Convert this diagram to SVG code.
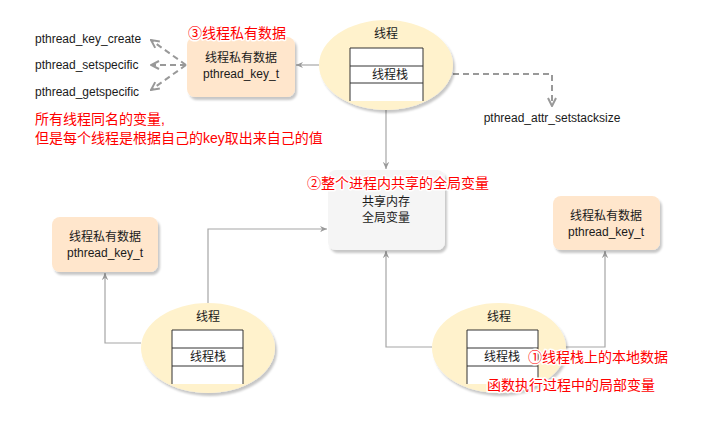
<svg xmlns="http://www.w3.org/2000/svg" width="702" height="423" viewBox="0 0 702 423">
  <defs>
    <filter id="shadow" x="-20%" y="-20%" width="140%" height="140%">
      <feDropShadow dx="2" dy="3" stdDeviation="1.2" flood-color="#000" flood-opacity="0.22"/>
    </filter>
    <marker id="arr" viewBox="0 0 10 10" refX="9" refY="5" markerWidth="8" markerHeight="8" orient="auto" markerUnits="userSpaceOnUse">
      <path d="M0,1 L9,5 L0,9 L3,5 Z" fill="#999"/>
    </marker>
    <marker id="open" viewBox="0 0 10 10" refX="9" refY="5" markerWidth="10" markerHeight="10" orient="auto" markerUnits="userSpaceOnUse">
      <path d="M1,1 L9,5 L1,9" fill="none" stroke="#999" stroke-width="2"/>
    </marker>
  </defs>
  <style>
    text { font-family: "Liberation Sans", "Noto Sans CJK SC", sans-serif; font-size: 12px; fill: #1a1a1a; }
    .c { text-anchor: middle; }
    .red { fill: #ff0000; font-size: 14px; stroke: #fff; stroke-width: 3px; paint-order: stroke; stroke-linejoin: round; }
    .thread { fill: #fff2cc; filter: url(#shadow); }
    .priv { fill: #ffe6cc; filter: url(#shadow); }
    .shared { fill: #f5f5f5; filter: url(#shadow); }
    .stack { fill: #fff; stroke: #333; stroke-width: 1; }
    .edge { fill: none; stroke: #a6a6a6; stroke-width: 1.2; }
    .dash { fill: none; stroke: #999; stroke-width: 2; stroke-dasharray: 6 4; }
  </style>

  <rect width="702" height="423" fill="#fff"/>

  <!-- connectors -->
  <g id="edges">
    <path class="edge" d="M319,65 L296,65" marker-end="url(#arr)"/>
    <path class="edge" d="M386,110 L386,169" marker-end="url(#arr)"/>
    <path class="dash" d="M423,74 L552,74 L552,106" marker-end="url(#open)"/>
    <path class="dash" d="M186,65 L151,40" marker-end="url(#open)"/>
    <path class="dash" d="M186,65 L151,65" marker-end="url(#open)"/>
    <path class="dash" d="M186,65 L151,90" marker-end="url(#open)"/>
    <path class="edge" d="M141,343 L105,343 L105,273" marker-end="url(#arr)"/>
    <path class="edge" d="M208,303 L208,229 L327,229" marker-end="url(#arr)"/>
    <path class="edge" d="M432,347 L386,347 L386,251" marker-end="url(#arr)"/>
    <path class="edge" d="M560,347 L605,347 L605,251" marker-end="url(#arr)"/>
  </g>

  <!-- top thread -->
  <g id="thread-top">
    <ellipse class="thread" cx="386" cy="65" rx="67" ry="45"/>
    <text class="c" x="386" y="38">线程</text>
    <path class="stack" d="M350,101 L350,48 L423,48 L423,101"/>
    <line class="stack" x1="350" y1="66" x2="423" y2="66"/>
    <line class="stack" x1="350" y1="83" x2="423" y2="83"/>
    <rect x="351" y="84" width="71" height="17" fill="#fff"/>
    <text class="c" x="390" y="79">线程栈</text>
  </g>

  <!-- top private data -->
  <g id="priv-top">
    <rect class="priv" x="187" y="37" width="108" height="60" rx="8"/>
    <text class="c" x="241" y="62">线程私有数据</text>
    <text class="c" x="241" y="78">pthread_key_t</text>
  </g>

  <g id="api-labels">
    <text x="35" y="43">pthread_key_create</text>
    <text x="35" y="69">pthread_setspecific</text>
    <text x="35" y="96">pthread_getspecific</text>
    <text class="c" x="552" y="122">pthread_attr_setstacksize</text>
  </g>

  <!-- shared memory -->
  <g id="shared">
    <rect class="shared" x="328" y="170" width="117" height="80" rx="8"/>
    <text class="c" x="386" y="206">共享内存</text>
    <text class="c" x="386" y="222">全局变量</text>
  </g>

  <!-- bottom-left thread -->
  <g id="thread-left">
    <ellipse class="thread" cx="208" cy="348" rx="67" ry="45"/>
    <text class="c" x="208" y="321">线程</text>
    <path class="stack" d="M172,384 L172,330 L243,330 L243,384"/>
    <line class="stack" x1="172" y1="348" x2="243" y2="348"/>
    <line class="stack" x1="172" y1="366" x2="243" y2="366"/>
    <text class="c" x="208" y="361">线程栈</text>
  </g>

  <g id="priv-left">
    <rect class="priv" x="52" y="217" width="106" height="55" rx="8"/>
    <text class="c" x="105" y="241">线程私有数据</text>
    <text class="c" x="105" y="257">pthread_key_t</text>
  </g>

  <!-- bottom-right thread -->
  <g id="thread-right">
    <ellipse class="thread" cx="499" cy="348" rx="67" ry="45"/>
    <text class="c" x="499" y="321">线程</text>
    <path class="stack" d="M467,384 L467,330 L538,330 L538,384"/>
    <line class="stack" x1="467" y1="348" x2="538" y2="348"/>
    <line class="stack" x1="467" y1="366" x2="538" y2="366"/>
    <text class="c" x="502" y="361">线程栈</text>
  </g>

  <g id="priv-right">
    <rect class="priv" x="553" y="196" width="107" height="54" rx="8"/>
    <text class="c" x="606" y="220">线程私有数据</text>
    <text class="c" x="606" y="236">pthread_key_t</text>
  </g>

  <!-- annotations -->
  <g id="notes">
    <text class="red" x="188" y="38">③线程私有数据</text>
    <text class="red" x="35" y="124">所有线程同名的变量,</text>
    <text class="red" x="35" y="143">但是每个线程是根据自己的key取出来自己的值</text>
    <text class="red" x="307" y="188">②整个进程内共享的全局变量</text>
    <text class="red" x="528" y="362">①线程栈上的本地数据</text>
    <text class="red" x="487" y="390">函数执行过程中的局部变量</text>
  </g>
</svg>
